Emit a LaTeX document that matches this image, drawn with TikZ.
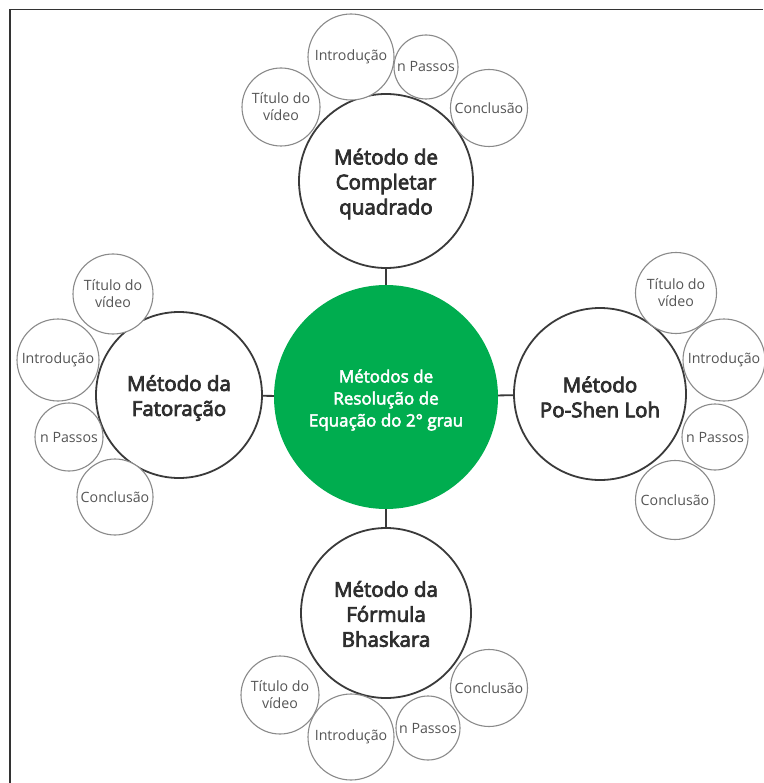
\documentclass[tikz,border=0pt]{standalone}
\usepackage{fontspec}
\setmainfont{Open Sans}
\newfontfamily\semib{Open Sans}[FakeBold=3.6]
\newfontfamily\semic{Open Sans}[FakeBold=3.0]
\definecolor{frame}{HTML}{333333}
\definecolor{bigline}{HTML}{3A3A3A}
\definecolor{smline}{HTML}{8A8A8A}
\definecolor{txt}{HTML}{2E2E2E}
\definecolor{smtxt}{HTML}{555555}
\definecolor{grn}{HTML}{00AD4F}
\begin{document}
\begin{tikzpicture}[x=1pt,y=-1pt,
  bigc/.style={circle, draw=bigline, line width=1.8pt, fill=white, inner sep=0pt},
  bigt/.style={inner sep=0pt, align=center, text=txt, font=\semib\fontsize{20.5}{25}\selectfont},
  hubc/.style={circle, fill=grn, draw=none, inner sep=0pt},
  hubt/.style={inner sep=0pt, align=center, text=white, font=\semic\fontsize{17}{22}\selectfont},
  smc/.style={circle, draw=smline, line width=1.1pt, fill=white, inner sep=0pt, align=center, text=smtxt, font=\fontsize{14.2}{17}\selectfont},
  link/.style={draw=bigline, line width=1.8pt}]
\useasboundingbox (0,0) rectangle (763,783);
\fill[white] (0,0) rectangle (763,783);
\draw[frame, line width=1.4pt] (10,783) -- (10,9.5) -- (763,9.5);

% hub and main branches
\node[hubc, minimum size=224pt] (hub) at (386,397) {};
\node[bigc, minimum size=174pt] (top) at (386,181) {};
\node[bigc, minimum size=166pt] (left) at (179,395) {};
\node[bigc, minimum size=172pt] (right) at (600,394) {};
\node[bigc, minimum size=170pt] (bot) at (386,613) {};

\node[hubt] (hubtext) at ([yshift=-3pt]hub.center) {Métodos de\\Resolução de\\Equação do 2° grau};
\node[bigt] (toptext) at ([yshift=-3pt]top.center) {Método de\\Completar\\quadrado};
\node[bigt] (lefttext) at ([yshift=-3pt]left.center) {Método da\\Fatoração};
\node[bigt] (righttext) at ([yshift=-3pt]right.center) {Método\\Po-Shen Loh};
\node[bigt] (bottext) at ([yshift=-1pt]bot.center) {Método da\\Fórmula\\Bhaskara};

\draw[link] (top) -- (hub);
\draw[link] (bot) -- (hub);
\draw[link] (left) -- (hub);
\draw[link] (right) -- (hub);

% top group
\node[smc, minimum size=78pt] (t1) at (281,107) {Título do\\vídeo};
\node[smc, minimum size=86pt] (t2) at (351,57) {Introdução};
\node[smc, minimum size=64pt] (t3) at (426,67) {n Passos};
\node[smc, minimum size=77pt] (t4) at (489,108) {Conclusão};

% left group
\node[smc, minimum size=80pt] (l1) at (113,294) {Título do\\vídeo};
\node[smc, minimum size=82pt] (l2) at (58,360) {Introdução};
\node[smc, minimum size=68pt] (l3) at (69,437) {n Passos};
\node[smc, minimum size=76pt] (l4) at (115,497) {Conclusão};

% right group
\node[smc, minimum size=81pt] (r1) at (676,293) {Título do\\vídeo};
\node[smc, minimum size=82pt] (r2) at (724,360) {Introdução};
\node[smc, minimum size=66pt] (r3) at (715,437) {n Passos};
\node[smc, minimum size=79pt] (r4) at (675,500) {Conclusão};

% bottom group
\node[smc, minimum size=78pt] (b1) at (280,695) {Título do\\vídeo};
\node[smc, minimum size=86pt] (b2) at (351,737) {Introdução};
\node[smc, minimum size=64pt] (b3) at (428,728) {n Passos};
\node[smc, minimum size=77pt] (b4) at (489,688) {Conclusão};
\end{tikzpicture}
\end{document}
